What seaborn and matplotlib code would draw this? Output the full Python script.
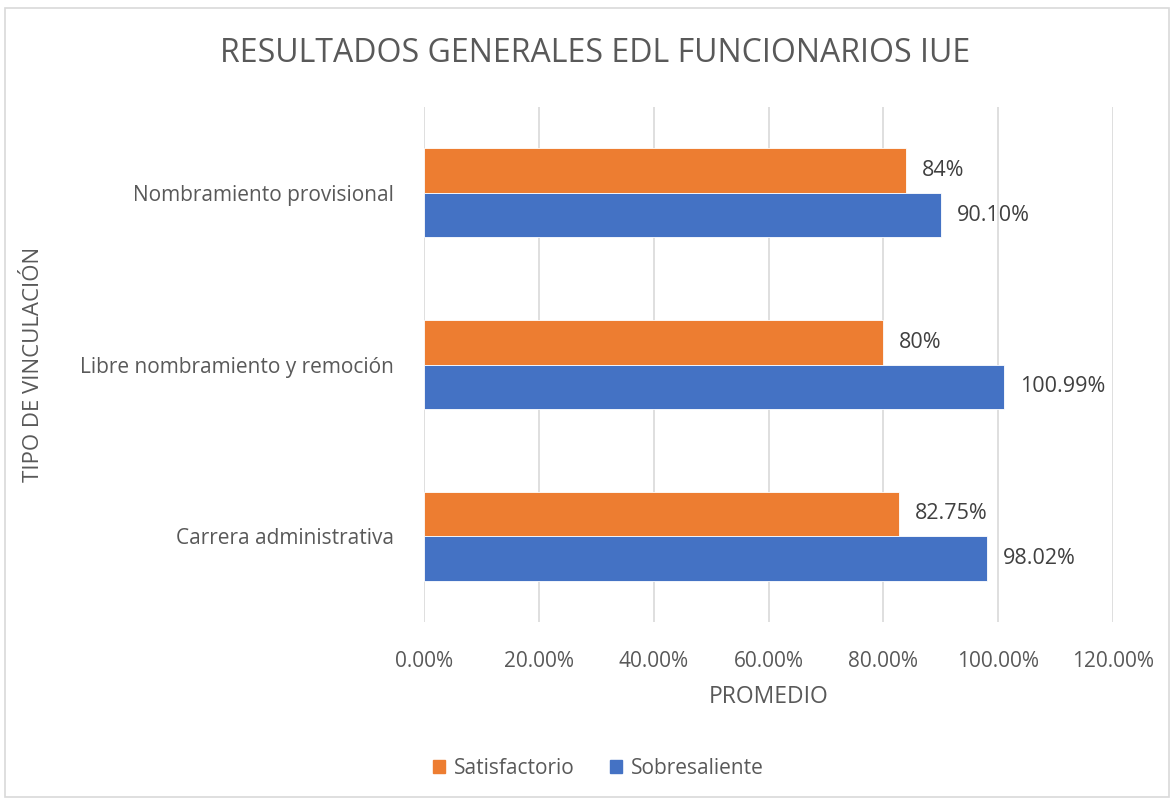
import matplotlib
matplotlib.use("Agg")
import matplotlib.pyplot as plt
import seaborn as sns
import pandas as pd
from matplotlib.ticker import FuncFormatter, MultipleLocator
from matplotlib.patches import Rectangle

categories = ["Nombramiento provisional", "Libre nombramiento y remoción", "Carrera administrativa"]
series = ["Satisfactorio", "Sobresaliente"]
satisfactorio = [84.0, 80.0, 82.75]
sobresaliente = [90.10, 100.99, 98.02]
label_sat = ["84%", "80%", "82.75%"]
label_sob = ["90.10%", "100.99%", "98.02%"]
colors = ["#ED7D31", "#4472C4"]

rows = []
for c, a, b in zip(categories, satisfactorio, sobresaliente):
    rows.append({"cat": c, "serie": series[0], "val": a})
    rows.append({"cat": c, "serie": series[1], "val": b})
df = pd.DataFrame(rows)

sns.set_theme(style="white")
plt.rcParams['font.family'] = ['Open Sans', 'DejaVu Sans']

W, H = 1174, 801
L, R, T, B = 424, 1113, 107, 622
fig = plt.figure(figsize=(W/100, H/100), dpi=100)
ax = fig.add_axes([L/W, 1-B/H, (R-L)/W, (B-T)/H])

sns.barplot(data=df, y="cat", x="val", hue="serie", order=categories,
            hue_order=series, palette=colors, width=0.52, orient="h",
            saturation=1, ax=ax, legend=False, edgecolor="white", linewidth=0.6)

ax.set_xlim(0, 120)
ax.set_ylim(2.5, -0.5)
ax.xaxis.set_major_locator(MultipleLocator(20))
ax.xaxis.set_major_formatter(FuncFormatter(lambda v, p: f"{v:.2f}%"))
ax.grid(axis="x", color="#D9D9D9", linewidth=1.2)
ax.set_axisbelow(True)
for s in ax.spines.values():
    s.set_visible(False)
ax.tick_params(axis="both", length=0, labelsize=15, colors="#595959")
ax.tick_params(axis="x", pad=21)
ax.tick_params(axis="y", pad=21.6)

for container, labs in zip(ax.containers, [label_sat, label_sob]):
    ax.bar_label(container, labels=labs, padding=11.5, fontsize=15.5, color="#404040")

ax.set_xlabel("PROMEDIO", fontsize=16.5, color="#595959")
ax.xaxis.set_label_coords(0.5, (B - 685) / (B - T))
ax.set_ylabel("TIPO DE VINCULACIÓN", fontsize=16, color="#595959")
ax.yaxis.set_label_coords((44 - L) / (R - L), 0.5)

fig.text(595/W, 1-53/H, "RESULTADOS GENERALES EDL FUNCIONARIOS IUE",
         ha="center", va="center", fontsize=23, color="#595959")

handles = [Rectangle((0, 0), 1, 1, color=c) for c in colors]
fig.legend(handles, series, loc="center", bbox_to_anchor=(598/W, 1-768/H),
           ncol=2, frameon=False, fontsize=15, labelcolor="#595959",
           handlelength=0.6, handleheight=0.6, handletextpad=0.4, columnspacing=1.7)

fig.patches.append(Rectangle((5/W, 1-797/H), 1164/W, 789/H,
                             transform=fig.transFigure, fill=False,
                             edgecolor="#D9D9D9", linewidth=1.2))

fig.savefig("out.png", dpi=100, facecolor="white")
